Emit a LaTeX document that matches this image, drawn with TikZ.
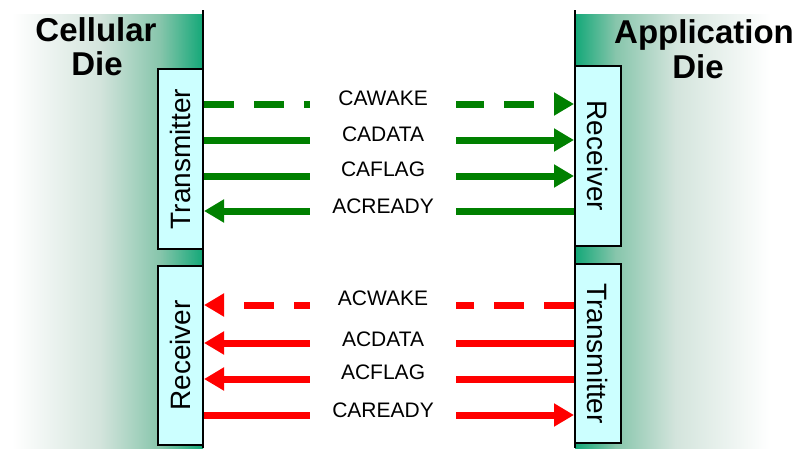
\documentclass[tikz,border=0pt]{standalone}
\usepackage{fontspec}
\setmainfont{Liberation Sans}
\usepackage{graphicx}
\usetikzlibrary{arrows.meta}
\definecolor{dieG}{HTML}{13A878}
\definecolor{dieA}{HTML}{86C5AB}
\definecolor{dieC}{HTML}{D3E4DC}
\definecolor{boxfill}{HTML}{CCFFFF}
\definecolor{wgreen}{HTML}{008000}
\definecolor{wred}{HTML}{FF0000}
\tikzset{
  title/.style={font=\fontsize{33}{35}\selectfont\bfseries, inner sep=0pt, anchor=base},
  blk/.style={draw=black, line width=2pt, fill=boxfill, inner sep=0pt, font=\fontsize{28}{28}\selectfont},
  wire/.style={line width=7pt},
  gwire/.style={wire, draw=wgreen},
  rwire/.style={wire, draw=wred},
  dashwire/.style={dash pattern=on 30pt off 20pt},
  tip/.style={-{Triangle[length=20pt,width=22pt]}},
  lbl/.style={fill=white, inner sep=0pt, minimum width=146pt, minimum height=28pt, font=\fontsize{21}{21}\selectfont, text=black},
  edge/.style={line width=2pt, draw=black}
}
\begin{document}
\begin{tikzpicture}[x=1pt,y=-1pt]
\useasboundingbox (0,0) rectangle (798,448);
% left die gradient
\fill[white] (0,14) rectangle (12.5,448);
\shade[left color=white, right color=dieC] (12,14) rectangle (100.5,448);
\shade[left color=dieC, right color=dieA] (100,14) rectangle (160.5,448);
\shade[left color=dieA, right color=dieG] (160,14) rectangle (203,448);
% right die gradient
\shade[left color=dieG, right color=dieA] (575,14) rectangle (615.5,448);
\shade[left color=dieA, right color=dieC] (615,14) rectangle (675.5,448);
\shade[left color=dieC, right color=white] (675,14) rectangle (770.5,448);
\fill[white] (770,14) rectangle (798,448);
\draw[edge] (203,10) -- (203,448);
\draw[edge] (575,10) -- (575,448);
% titles
\node[title] (cell1) at (96,41) {Cellular};
\node[title] (cell2) at (97,75) {Die};
\node[title] (app1) at (704,43) {Application};
\node[title] (app2) at (698,78) {Die};
% blocks
\node[blk, minimum width=45pt, minimum height=180pt] (LT) at (180.5,159) {\rotatebox{90}{Transmitter}};
\node[blk, minimum width=45pt, minimum height=179pt] (LR) at (180.5,355.5) {\rotatebox{90}{Receiver}};
\node[blk, minimum width=46pt, minimum height=180pt] (RR) at (598,156) {\rotatebox{-90}{Receiver}};
\node[blk, minimum width=46pt, minimum height=179pt] (RT) at (598,353.5) {\rotatebox{-90}{Transmitter}};
% green wires
\draw[gwire, dashwire, tip] (LT.east |- 0,104) -- node[lbl, pos=0.484, yshift=6pt] {CAWAKE} (RR.west |- 0,104);
\draw[gwire, tip] (LT.east |- 0,140) -- node[lbl, pos=0.484, yshift=6pt] {CADATA} (RR.west |- 0,140);
\draw[gwire, tip] (LT.east |- 0,176) -- node[lbl, pos=0.484, yshift=7pt] {CAFLAG} (RR.west |- 0,176);
\draw[gwire, tip] (RR.west |- 0,211) -- node[lbl, pos=0.516, yshift=5pt] {ACREADY} (LT.east |- 0,211);
% red wires
\draw[rwire, dashwire, tip] (RT.west |- 0,305) -- node[lbl, pos=0.516, yshift=7pt] {ACWAKE} (LR.east |- 0,305);
\draw[rwire, tip] (RT.west |- 0,343) -- node[lbl, pos=0.516, yshift=4pt] {ACDATA} (LR.east |- 0,343);
\draw[rwire, tip] (RT.west |- 0,379) -- node[lbl, pos=0.516, yshift=7pt] {ACFLAG} (LR.east |- 0,379);
\draw[rwire, tip] (LR.east |- 0,415) -- node[lbl, pos=0.484, yshift=5pt] {CAREADY} (RT.west |- 0,415);
\end{tikzpicture}
\end{document}
